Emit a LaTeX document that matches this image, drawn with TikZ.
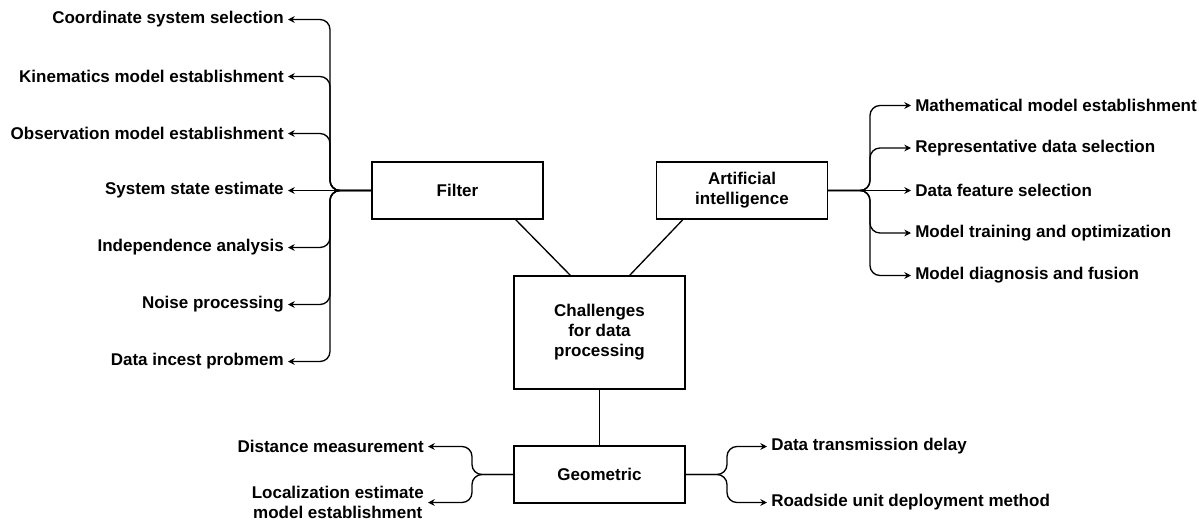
\documentclass[tikz,border=0pt]{standalone}
\usepackage{fontspec}
\setmainfont{Liberation Sans}
\usetikzlibrary{arrows.meta,calc}

\begin{document}
\begin{tikzpicture}[
x=0.75pt, y=-0.75pt,
font=\fontsize{12.75pt}{15pt}\selectfont\bfseries,
box/.style={draw, line width=1pt, align=center, minimum width=128.25pt, minimum height=42.75pt, inner sep=2pt},
item/.style={inner xsep=3pt, inner ysep=1pt, align=center},
link/.style={-{Stealth[length=5pt,width=5pt]}, line width=1pt, rounded corners=7.5pt},
plainline/.style={line width=1pt}
]
\useasboundingbox (0,0) rectangle (1199,519);

% main boxes
\node[box] (filter) at (457.5,190.5) {Filter};
\node[box] (ai) at (742,190.5) {Artificial\\intelligence};
\node[box, minimum height=84.75pt] (chal) at (599.5,332.5) {Challenges\\for data\\processing};
\node[box] (geo) at (599.5,474.5) {Geometric};

% filter branches
\foreach \i/\txt in {1/Coordinate system selection, 2/Kinematics model establishment,
  3/Observation model establishment, 4/System state estimate, 5/Independence analysis,
  6/Noise processing, 7/Data incest probmem}
  \node[item, anchor=east] (f\i) at (288,{19.5+57*(\i-1)}) {\txt};

% AI branches
\foreach \i/\txt in {1/Mathematical model establishment, 2/Representative data selection,
  3/Data feature selection, 4/Model training and optimization, 5/Model diagnosis and fusion}
  \node[item, anchor=west] (a\i) at (911,{105.5+42.5*(\i-1)}) {\txt};

% geometric branches
\node[item, anchor=east] (g1) at (428,446.5) {Distance measurement};
\node[item, anchor=east] (g2) at (428,502.5) {Localization estimate\\model establishment};
\node[item, anchor=west] (g3) at (767,446.5) {Data transmission delay};
\node[item, anchor=west] (g4) at (767,502.5) {Roadside unit deployment method};

\coordinate (fj) at (330,190.5);
\coordinate (aj) at (870,190.5);
\coordinate (gl) at (472,474.5);
\coordinate (gr) at (727,474.5);

\foreach \i in {1,2,3,5,6,7}
  \draw[link] (filter.west) -- (fj) |- (f\i.east);
\draw[link] (filter.west) -- (f4.east);

\foreach \i in {1,2,4,5}
  \draw[link] (ai.east) -- (aj) |- (a\i.west);
\draw[link] (ai.east) -- (a3.west);

\draw[link] (geo.west) -- (gl) |- (g1.east);
\draw[link] (geo.west) -- (gl) |- (g2.east);
\draw[link] (geo.east) -- (gr) |- (g3.west);
\draw[link] (geo.east) -- (gr) |- (g4.west);

% links to the centre box
\draw[plainline] ($(filter.south east)+(-28,0)$) -- ($(chal.north west)+(57,0)$);
\draw[plainline] ($(ai.south west)+(27,0)$) -- ($(chal.north east)+(-56,0)$);
\draw[plainline] (chal) -- (geo);
\end{tikzpicture}
\end{document}
